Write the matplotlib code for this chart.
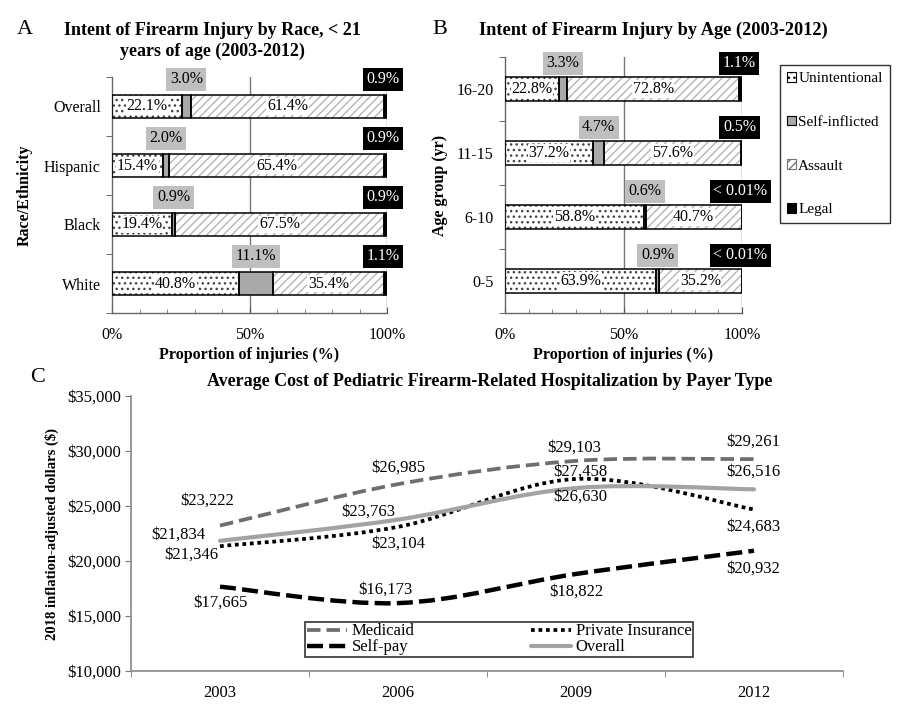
import numpy as np
import matplotlib.pyplot as plt
from matplotlib.path import Path
from matplotlib.patches import PathPatch, Patch
from matplotlib.lines import Line2D

plt.rcParams['font.family'] = ['Liberation Serif', 'DejaVu Serif']
plt.rcParams['hatch.linewidth'] = 1.0

# panel A - intent by race (%)
race_groups = ['Overall', 'Hispanic', 'Black', 'White']
race_unint = [22.1, 15.4, 19.4, 40.8]
race_self = [3.0, 2.0, 0.9, 11.1]
race_assault = [61.4, 65.4, 67.5, 35.4]
race_legal = [0.9, 0.9, 0.9, 1.1]
race_legal_labels = ['0.9%', '0.9%', '0.9%', '1.1%']

# panel B - intent by age (%)
age_groups = ['16-20', '11-15', '6-10', '0-5']
age_unint = [22.8, 37.2, 58.8, 63.9]
age_self = [3.3, 4.7, 0.6, 0.9]
age_assault = [72.8, 57.6, 40.7, 35.2]
age_legal = [1.1, 0.5, 0.01, 0.01]
age_legal_labels = ['1.1%', '0.5%', '< 0.01%', '< 0.01%']

# panel C - average cost by payer
years = ['2003', '2006', '2009', '2012']
medicaid = [23222, 26985, 29103, 29261]
private = [21346, 23104, 27458, 24683]
selfpay = [17665, 16173, 18822, 20932]
overall = [21834, 23763, 26630, 26516]

FS = 11.5
DOT_HATCH = '...'
SLASH_HATCH = '////'
SELF_GRAY = '#a9a9a9'


def stacked(ax, groups, unint, selfi, assault, legal, legal_labels, lab_off):
    ys = np.arange(len(groups))
    h = 0.38
    for i in ys:
        vals = [unint[i], selfi[i], assault[i], legal[i]]
        tot = sum(vals)
        w = [v / tot * 100 for v in vals]
        left = np.concatenate([[0], np.cumsum(w)[:-1]])
        # unintentional - dots
        ax.barh(i, w[0], left=left[0], height=h, color='white', edgecolor='#444444',
                hatch=DOT_HATCH, linewidth=0, zorder=2)
        # self-inflicted - gray
        ax.barh(i, w[1], left=left[1], height=h, color=SELF_GRAY, linewidth=0, zorder=2)
        # assault - light diagonal
        ax.barh(i, w[2], left=left[2], height=h, color='white', edgecolor='#b5b5b5',
                hatch=SLASH_HATCH, linewidth=0, zorder=2)
        # legal - black
        ax.barh(i, w[3], left=left[3], height=h, color='black', linewidth=0, zorder=2)
        for k in range(4):
            ax.barh(i, w[k], left=left[k], height=h, fill=False, edgecolor='black',
                    linewidth=1.1, zorder=3)
        ax.text(left[0] + w[0] / 2, i, '%.1f%%' % unint[i], ha='center', va='center',
                fontsize=FS, zorder=4,
                bbox=dict(facecolor='white', edgecolor='none', pad=0.5))
        ax.text(left[2] + w[2] / 2, i, '%.1f%%' % assault[i], ha='center', va='center',
                fontsize=FS, zorder=4,
                bbox=dict(facecolor='white', edgecolor='none', pad=0.5))
        ax.text(left[1] + w[1] / 2, i - lab_off, '%.1f%%' % selfi[i], ha='center',
                va='center', fontsize=FS, zorder=4,
                bbox=dict(facecolor='#bfbfbf', edgecolor='none', pad=2.5))
        ax.text(left[3] + w[3] / 2 - 0.8, i - lab_off, legal_labels[i], ha='center',
                va='center', fontsize=FS, color='white', zorder=4,
                bbox=dict(facecolor='black', edgecolor='none', pad=2.5))
    ax.set_ylim(len(groups) - 0.5, -0.5)
    ax.set_xlim(0, 100)
    ax.set_yticks(ys)
    ax.set_yticklabels(groups, fontsize=FS)
    ax.set_yticks(np.arange(len(groups) + 1) - 0.5, minor=True)
    ax.tick_params(axis='y', which='major', length=0, pad=8)
    ax.tick_params(axis='y', which='minor', length=4, direction='out', color='#555555')
    ax.set_xticks([0, 50, 100])
    ax.set_xticklabels(['0%', '50%', '100%'], fontsize=FS)
    ax.set_xticks(np.arange(10, 100, 10), minor=True)
    ax.tick_params(axis='x', which='major', length=4, direction='in', color='#555555', pad=10)
    ax.tick_params(axis='x', which='minor', length=3, direction='in', color='#777777')
    for x in (50, 100):
        ax.axvline(x, color='#777777', linewidth=1.0, zorder=1)
    for s in ('top', 'right'):
        ax.spines[s].set_visible(False)
    for s in ('left', 'bottom'):
        ax.spines[s].set_color('#666666')
        ax.spines[s].set_linewidth(1.0)
    ax.set_xlabel('Proportion of injuries (%)', fontsize=FS, fontweight='bold', labelpad=3)


fig = plt.figure(figsize=(9, 7.12), dpi=100)

axA = fig.add_axes([112 / 900, 1 - 313 / 712, 275 / 900, 236 / 712])
stacked(axA, race_groups, race_unint, race_self, race_assault, race_legal,
        race_legal_labels, 0.46)
axA.set_ylabel('Race/Ethnicity', fontsize=FS, fontweight='bold', labelpad=8)
fig.text(212 / 900, 1 - 41 / 712, 'Intent of Firearm Injury by Race, < 21\nyears of age (2003-2012)',
         ha='center', va='center', fontsize=13, fontweight='bold', linespacing=1.3)
fig.text(25 / 900, 1 - 30 / 712, 'A', ha='center', va='center', fontsize=16)

axB = fig.add_axes([505 / 900, 1 - 313 / 712, 237 / 900, 256 / 712])
stacked(axB, age_groups, age_unint, age_self, age_assault, age_legal,
        age_legal_labels, 0.40)
axB.set_ylabel('Age group (yr)', fontsize=FS, fontweight='bold', labelpad=6)
fig.text(653 / 900, 1 - 30 / 712, 'Intent of Firearm Injury by Age (2003-2012)',
         ha='center', va='center', fontsize=13.2, fontweight='bold')
fig.text(440 / 900, 1 - 30 / 712, 'B', ha='center', va='center', fontsize=16)

leg_handles = [
    Patch(facecolor='white', edgecolor='black', hatch='...', linewidth=0.8),
    Patch(facecolor=SELF_GRAY, edgecolor='black', linewidth=0.8),
    Patch(facecolor='white', edgecolor='#777777', hatch='////', linewidth=0.8),
    Patch(facecolor='black', edgecolor='black', linewidth=0.8),
]
legB = fig.legend(leg_handles, ['Unintentional', 'Self-inflicted', 'Assault', 'Legal'],
                  loc='upper left', bbox_to_anchor=(780 / 900, 1 - 65 / 712),
                  fontsize=11, frameon=True, fancybox=False, edgecolor='black',
                  handlelength=0.6, handleheight=0.6, handletextpad=0.15,
                  labelspacing=2.0, borderpad=0.45, borderaxespad=0)
legB.get_frame().set_linewidth(1.0)

# panel C
axC = fig.add_axes([131 / 900, 1 - 671 / 712, 712 / 900, 275 / 712])
xs = np.arange(len(years))


def smooth_path(xv, yv):
    pts = np.column_stack([xv, yv]).astype(float)
    n = len(pts)
    verts = [pts[0]]
    codes = [Path.MOVETO]
    for i in range(n - 1):
        p0 = pts[max(i - 1, 0)]
        p1 = pts[i]
        p2 = pts[i + 1]
        p3 = pts[min(i + 2, n - 1)]
        verts += [p1 + (p2 - p0) / 6, p2 - (p3 - p1) / 6, p2]
        codes += [Path.CURVE4] * 3
    return Path(verts, codes)


series = [
    ('Medicaid', medicaid, '#6e6e6e', 2.7, (0, (3.6, 1.6)), 'butt'),
    ('Private Insurance', private, 'black', 2.7, (0, (1.0, 1.0)), 'butt'),
    ('Self-pay', selfpay, 'black', 3.2, (0, (3.6, 1.4)), 'butt'),
    ('Overall', overall, '#a3a3a3', 3.0, '-', 'round'),
]
handles = {}
for name, vals, col, lw, ls, cap in series:
    p = PathPatch(smooth_path(xs, vals), fill=False, edgecolor=col, linewidth=lw,
                  linestyle=ls, capstyle=cap, zorder=3)
    axC.add_patch(p)
    handles[name] = Line2D([], [], color=col, linewidth=lw, linestyle=ls,
                           dash_capstyle=cap, solid_capstyle=cap)

# label offsets in pixels (dx, dy up)
offsets = {
    'Medicaid': [(-13, 25), (0, 17), (-2, 13), (-1, 17)],
    'Private Insurance': [(-29, -8), (0, -17), (4, 7), (-1, -17)],
    'Self-pay': [(0, -16), (-13, 13), (0, -18), (-1, -18)],
    'Overall': [(-42, 6), (-30, 8), (4, -9), (-1, 18)],
}
for name, vals, col, lw, ls, cap in series:
    for i, v in enumerate(vals):
        dx, dy = offsets[name][i]
        axC.annotate('${:,}'.format(v), (xs[i], v), xytext=(dx * 0.72, dy * 0.72),
                     textcoords='offset points', ha='center', va='center', fontsize=12,
                     zorder=4)

axC.set_xlim(-0.5, len(years) - 0.5)
axC.set_ylim(10000, 35000)
axC.set_yticks(np.arange(10000, 35001, 5000))
axC.set_yticklabels(['${:,}'.format(v) for v in range(10000, 35001, 5000)], fontsize=12)
axC.set_xticks(xs)
axC.set_xticklabels(years, fontsize=12)
axC.set_xticks(np.arange(len(years) + 1) - 0.5, minor=True)
axC.tick_params(axis='x', which='major', length=0, pad=10)
axC.tick_params(axis='x', which='minor', length=4, direction='out', color='#777777')
axC.tick_params(axis='y', length=4, direction='out', color='#777777', pad=3)
for s in ('top', 'right'):
    axC.spines[s].set_visible(False)
for s in ('left', 'bottom'):
    axC.spines[s].set_color('#888888')
    axC.spines[s].set_linewidth(1.2)
axC.set_ylabel('2018 inflation-adjusted dollars ($)', fontsize=10.5, fontweight='bold',
               labelpad=6)
leg_order = ['Medicaid', 'Self-pay', 'Private Insurance', 'Overall']
legC = axC.legend([handles[n] for n in leg_order], leg_order, ncol=2, mode='expand',
                  loc='lower left', bbox_to_anchor=(174 / 712, 14 / 275, 388 / 712, 34 / 275),
                  fontsize=12, frameon=True, fancybox=False, edgecolor='black',
                  handlelength=2.4, handletextpad=0.3, labelspacing=0.0, borderpad=0.1,
                  borderaxespad=0, columnspacing=1.0)
legC.get_frame().set_linewidth(1.2)
fig.text(490 / 900, 1 - 382 / 712,
         'Average Cost of Pediatric Firearm-Related Hospitalization by Payer Type',
         ha='center', va='center', fontsize=13, fontweight='bold')
fig.text(38 / 900, 1 - 378 / 712, 'C', ha='center', va='center', fontsize=16)

fig.savefig('out.png', dpi=100)
